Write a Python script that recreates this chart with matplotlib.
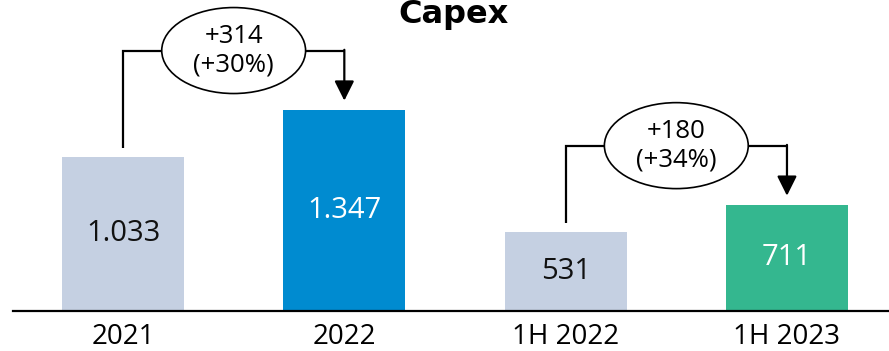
import matplotlib
matplotlib.use("Agg")
import matplotlib.pyplot as plt
from matplotlib.patches import Ellipse

plt.rcParams['font.family'] = ['Open Sans', 'DejaVu Sans']

# Capex, milioni di euro
periods = ['2021', '2022', '1H 2022', '1H 2023']
capex = [1033, 1347, 531, 711]
bar_colors = ['#C5D0E2', '#008BD0', '#C5D0E2', '#34B78F']
label_colors = ['#111111', 'white', '#111111', 'white']
# coppie confrontate (indice da, indice a)
pairs = [(0, 1), (2, 3)]


def fmt(v):
    return f"{v:,}".replace(',', '.')


W, H = 889, 351
fig = plt.figure(figsize=(W / 100, H / 100), dpi=100)
ax = fig.add_axes([13 / W, 40 / H, (W - 13) / W, 311 / H])

x = list(range(len(periods)))
ax.bar(x, capex, width=0.55, color=bar_colors, zorder=2)
for xi, v, c in zip(x, capex, label_colors):
    ax.text(xi, v / 2, fmt(v), ha='center', va='center', fontsize=21, color=c, zorder=3)

ax.set_xlim(-0.497, 3.461)
ax.set_ylim(0, 2080)
ax.set_xticks(x)
ax.set_xticklabels(periods, fontsize=20)
ax.tick_params(axis='x', length=0, pad=9)
ax.set_yticks([])
for s in ['top', 'left', 'right']:
    ax.spines[s].set_visible(False)
ax.spines['bottom'].set_linewidth(1.6)
ax.spines['bottom'].set_color('black')

# frecce di variazione con ellisse
gap = 60
rise = 395
for a, b in pairs:
    va, vb = capex[a], capex[b]
    top = max(va, vb) + rise
    ax.plot([a, a, b], [va + gap, top, top], color='black', lw=1.6,
            solid_capstyle='butt', solid_joinstyle='miter', zorder=3, clip_on=False)
    ax.annotate('', xy=(b, vb + gap), xytext=(b, top + 5),
                arrowprops=dict(arrowstyle='-|>', color='black', lw=1.6,
                                mutation_scale=30, shrinkA=0, shrinkB=0),
                zorder=3, annotation_clip=False)
    cx = (a + b) / 2
    ax.add_patch(Ellipse((cx, top), 0.65, 575, facecolor='white', edgecolor='black',
                         lw=1.2, zorder=4, clip_on=False))
    delta = vb - va
    pct = round(delta / va * 100)
    ax.text(cx, top, f"+{delta}\n(+{pct}%)", ha='center', va='center', fontsize=18.5,
            linespacing=1.2, zorder=5)

fig.text(453 / W, 1 - 15 / H, 'Capex', ha='center', va='center', fontsize=23,
         fontweight='bold', family='DejaVu Sans')

fig.savefig('out.png', dpi=100)
